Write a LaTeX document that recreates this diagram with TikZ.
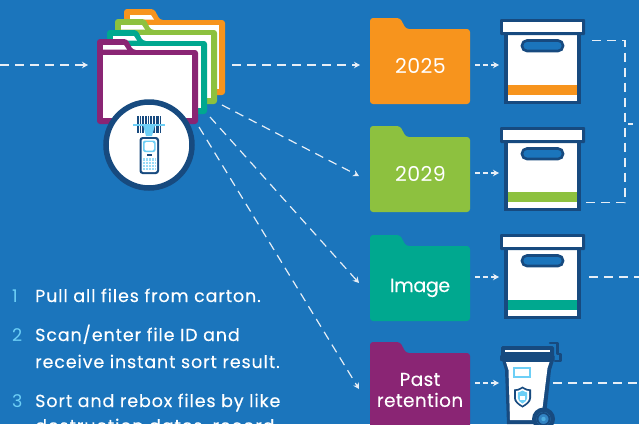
\documentclass[tikz,border=0pt]{standalone}
\usepackage{fontspec}
\setmainfont{Poppins}
\usetikzlibrary{arrows.meta}
\definecolor{bgblue}{HTML}{1B75BC}
\definecolor{navy}{HTML}{174A7F}
\definecolor{lblue}{HTML}{6DCFF6}
\definecolor{forange}{HTML}{F7941D}
\definecolor{fgreen}{HTML}{8DC13F}
\definecolor{fteal}{HTML}{00A88F}
\definecolor{fpurple}{HTML}{8A2574}
\definecolor{dashw}{HTML}{E6EEF6}
\tikzset{
  flow/.style={draw=dashw,line width=1.2pt,dash pattern=on 9pt off 6pt},
  flowtip/.style={flow,-{Stealth[length=6pt,width=6.5pt,fill=dashw]}},
  short/.style={draw=dashw,line width=1.2pt,dash pattern=on 5pt off 3pt,-{Stealth[length=6pt,width=6.5pt,fill=dashw]}},
  flabel/.style={text=white,font=\fontsize{19}{21}\selectfont\addfontfeature{LetterSpace=-2,FakeBold=0.15},align=center,inner sep=0pt},
  fnum/.style={text=white,font=\fontsize{20.5}{24}\selectfont\addfontfeature{LetterSpace=2},align=center,inner sep=0pt},
  fwide/.style={text=white,font=\fontsize{18.5}{21}\selectfont\addfontfeature{LetterSpace=2,FakeBold=0.15},align=center,inner sep=0pt},
  steptext/.style={text=white,anchor=base west,inner sep=0pt,font=\fontsize{17.5}{20}\selectfont\addfontfeature{LetterSpace=5,FakeBold=0.2}},
  stepnum/.style={text=lblue,anchor=base west,inner sep=0pt,font=\fontsize{17.5}{20}\selectfont},
  fp/.style={line width=0pt,rounded corners=3pt}
}
\newcommand{\foldershape}[5]{%
  \fill[#5,fp] (#1,#4) -- (#1,#2) -- ({#1+30},#2) -- ({#1+36},{#2+11}) -- (#3,{#2+11}) -- (#3,#4) -- cycle;}
\newcommand{\stackfolder}[5]{%
  \foldershape{#1}{#2}{#3}{#4}{#5}
  \fill[white] ({#1+6},{#2+16}) rectangle ({#3-6},{#4-6});
  \fill[white] ({#1+6},{#2+6}) -- ({#1+27},{#2+6}) -- ({#1+30},{#2+10.5}) -- ({#1+6},{#2+10.5}) -- cycle;}
\newcommand{\cartonbox}[4]{% top y of lid, bottom of lid, bottom of box, colour
  \fill[navy] (504,#2) rectangle (581,#3);
  \fill[white] (508,#2) rectangle (577,{#3-3});
  \fill[navy,rounded corners=1pt] (500,#1) rectangle (585,#2);
  \fill[white] (503,{#1+3}) rectangle (582,{#2-3});
  \draw[navy,line width=2.6pt,fill=bgblue,rounded corners=5pt] (522,{#2+5.5}) rectangle (563,{#2+16});
  \fill[#4] (508,{#3-19}) rectangle (577,{#3-9});}
\begin{document}
\begin{tikzpicture}[x=1pt,y=-1pt]
\clip (0,0) rectangle (639,424);
\fill[bgblue] (0,0) rectangle (639,424);

% stacked folders
\stackfolder{124}{9}{225}{95}{forange}
\stackfolder{115}{19}{217}{104}{fgreen}
\stackfolder{107}{30}{207}{114}{fteal}
\stackfolder{97}{39}{198}{124}{fpurple}

% scanner badge
\node[circle,draw=navy,line width=5.5pt,fill=white,minimum size=86pt,inner sep=0pt] (badge) at (149,145) {};
\foreach \bx/\bw in {136.5/2.2,140/1,142/1.6,144.8/2.2,148/1,150/1.6,152.6/2.2,155.6/1,157.4/1.4,159.6/1.8}
  \fill[navy] (\bx,116) rectangle ({\bx+\bw},133);
\fill[lblue] (143,125) -- (155,125) -- (152,136) -- (146,136) -- cycle;
\fill[lblue] (133,123.5) rectangle (165,125.5);
\fill[navy,rounded corners=3pt] (139.5,137) -- (159,137) -- (159,174) -- (139.5,174) -- cycle;
\fill[white,rounded corners=2pt] (141.5,139) -- (157,139) -- (157,172) -- (141.5,172) -- cycle;
\fill[lblue,rounded corners=2pt] (143,140.5) rectangle (155.5,152);
\fill[white,rounded corners=1.5pt] (144.5,142) rectangle (154,150.5);
\fill[navy] (147,153.5) rectangle (151.5,156);
\fill[lblue!70] (142.5,158) rectangle (156,171);
\foreach \gx in {145,148,151,154} \fill[white] (\gx,158) rectangle ({\gx+.7},171);
\foreach \gy in {161,164,167,170} \fill[white] (142.5,\gy) rectangle (156,{\gy+.7});

% colour folders
\foldershape{370}{18}{470}{104}{forange}
\foldershape{370}{126}{470}{212}{fgreen}
\foldershape{370}{235}{470}{321}{fteal}
\foldershape{370}{342}{470}{430}{fpurple}
\node[fnum,anchor=base] (f2025) at (420.5,73) {2025};
\node[fnum,anchor=base] (f2029) at (420.5,181) {2029};
\node[flabel,anchor=base] (fimage) at (420,292) {Image};
\node[fwide] (fpast) at (420,390) {Past\\retention};

% cartons
\cartonbox{19}{35}{104}{forange}
\cartonbox{127}{143}{211}{fgreen}
\cartonbox{234}{250}{319}{fteal}

% bin
\draw[navy,line width=2.6pt,line cap=round,line join=round] (550,343) -- (557.5,343) -- (557.5,354) -- (560.5,354) -- (560.5,361) -- (555,361);
\fill[navy] (502,360) -- (505,370) -- (507,424) -- (545,424) -- (551,370) -- (554,360) -- cycle;
\fill[white] (506,362) -- (508.5,370) -- (510,420) -- (541,420) -- (547.5,368) -- (549.5,362) -- cycle;
\fill[navy,rounded corners=1.5pt] (501,346) rectangle (554,360);
\fill[navy,rounded corners=1pt] (500,355) rectangle (554.5,361);
\fill[white] (504.5,349.5) rectangle (550,352);
\fill[lblue] (513,367) rectangle (531,378);
\fill[white] (515,369) rectangle (529,376);
\fill[navy] (522.5,386.5) .. controls (519,389) and (516,389.5) .. (514,389.5) -- (514,398) .. controls (514,402) and (518,405) .. (522.5,407.5) .. controls (527,405) and (531,402) .. (531,398) -- (531,389.5) .. controls (529,389.5) and (526,389) .. (522.5,386.5) -- cycle;
\fill[white] (522.5,388.5) .. controls (519.5,390.5) and (517.5,391) .. (516,391) -- (516,398) .. controls (516,401) and (519,403.5) .. (522.5,405.5) .. controls (526,403.5) and (529,401) .. (529,398) -- (529,391) .. controls (527.5,391) and (525.5,390.5) .. (522.5,388.5) -- cycle;
\fill[lblue] (522.5,390.5) .. controls (520,392) and (518.8,392.3) .. (517.8,392.5) -- (517.8,398) .. controls (517.8,400.5) and (520,402) .. (522.5,403.5) .. controls (525,402) and (527.2,400.5) .. (527.2,398) -- (527.2,392.5) .. controls (526.2,392.3) and (525,392) .. (522.5,390.5) -- cycle;
\fill[white] (520.2,395.5) rectangle (524.8,399.5);
\fill[navy] (543.5,419) circle (11.5pt);
\fill[white!10!bgblue] (543.5,419) circle (7pt);
\draw[navy,line width=1.8pt] (543.5,419) circle (6pt);
\fill[lblue!60!bgblue] (543.5,419) circle (2.2pt);

% named connector ends
\coordinate (inL) at (0,65);
\coordinate (stackW) at (88,65);
\coordinate (stackE) at (232,65);
\coordinate (stackA) at (222,105);
\coordinate (stackB) at (210,117);
\coordinate (stackC) at (199,127);
\coordinate (t2025) at (360,65);
\coordinate (t2029) at (359,176);
\coordinate (timage) at (359,283);
\coordinate (tpast) at (359,389);
\coordinate (o1) at (475,65);
\coordinate (o2) at (475,173);
\coordinate (o3) at (475,277);
\coordinate (o4) at (475,383);
\coordinate (c1) at (499,65);
\coordinate (c2) at (499,173);
\coordinate (c3) at (499,277);
\coordinate (c4) at (499,383);
\coordinate (r1) at (586,40.5);
\coordinate (r2) at (586,202.5);
\coordinate (rc1) at (625,40.5);
\coordinate (rc2) at (625,202.5);
\coordinate (rm) at (625,124);
\coordinate (rout) at (639,124);
\coordinate (r3) at (589,277);
\coordinate (r3out) at (639,277);
\coordinate (r4) at (553,383);
\coordinate (r4out) at (639,383);

\draw[flowtip] (inL) -- (stackW);
\draw[flowtip] (stackE) -- (t2025);
\draw[flowtip] (stackA) -- (t2029);
\draw[flowtip] (stackB) -- (timage);
\draw[flowtip] (stackC) -- (tpast);
\draw[short] (o1) -- (c1);
\draw[short] (o2) -- (c2);
\draw[short] (o3) -- (c3);
\draw[short] (o4) -- (c4);
\draw[flow,dash pattern=on 9pt off 6pt,dash phase=-6pt] (r1) -- (rc1) -- (rc2) -- (r2);
\draw[flow,dash pattern=on 5pt off 8pt,dash phase=-3pt] (rm) -- (rout);
\draw[flow] (r3) -- (r3out);
\draw[flow] (r4) -- (r4out);

% steps
\node[stepnum] (n1) at (12,302) {1};
\node[stepnum] (n2) at (12,341) {2};
\node[stepnum] (n3) at (12,407) {3};
\node[steptext] (s1) at (35,302) {Pull all files from carton.};
\node[steptext] (s2a) at (35,341) {Scan/enter file ID and};
\node[steptext] (s2b) at (35,368) {receive instant sort result.};
\node[steptext] (s3a) at (35,407) {Sort and rebox files by like};
\node[steptext] (s3b) at (35,432) {destruction dates, record};
\end{tikzpicture}
\end{document}
